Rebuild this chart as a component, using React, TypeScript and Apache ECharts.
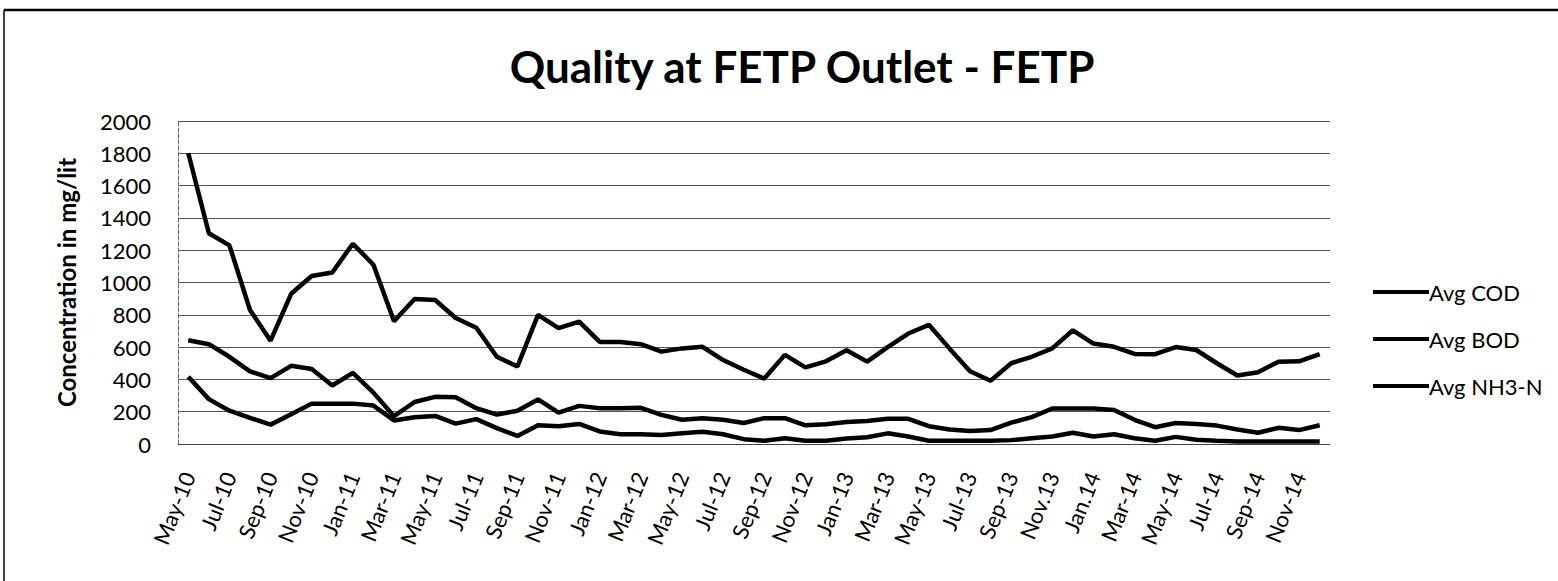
import React, { useEffect, useRef } from "react";
import * as echarts from "echarts";

const months = [
  "May-10", "Jun-10", "Jul-10", "Aug-10", "Sep-10", "Oct-10", "Nov-10", "Dec-10",
  "Jan-11", "Feb-11", "Mar-11", "Apr-11", "May-11", "Jun-11", "Jul-11", "Aug-11", "Sep-11", "Oct-11", "Nov-11", "Dec-11",
  "Jan-12", "Feb-12", "Mar-12", "Apr-12", "May-12", "Jun-12", "Jul-12", "Aug-12", "Sep-12", "Oct-12", "Nov-12", "Dec-12",
  "Jan-13", "Feb-13", "Mar-13", "Apr-13", "May-13", "Jun-13", "Jul-13", "Aug-13", "Sep-13", "Oct-13", "Nov.13", "Dec-13",
  "Jan.14", "Feb-14", "Mar-14", "Apr-14", "May-14", "Jun-14", "Jul-14", "Aug-14", "Sep-14", "Oct-14", "Nov-14", "Dec-14",
];

const avgCOD = [
  1800, 1305, 1230, 830, 640, 930, 1040, 1062,
  1240, 1110, 760, 898, 892, 780, 720, 540, 480, 800, 718, 758,
  632, 632, 618, 572, 592, 602, 520, 460, 405, 552, 474, 512,
  580, 510, 600, 684, 738, 592, 450, 392, 500, 540, 592, 704,
  622, 602, 558, 556, 600, 582, 500, 424, 444, 510, 512, 556,
];

const avgBOD = [
  642, 618, 540, 450, 408, 484, 464, 362,
  440, 318, 172, 260, 292, 290, 222, 182, 206, 276, 194, 236,
  222, 222, 224, 180, 150, 160, 150, 130, 160, 160, 116, 122,
  136, 142, 156, 156, 110, 90, 80, 86, 132, 166, 220, 220,
  220, 210, 150, 104, 130, 124, 114, 90, 70, 100, 86, 116,
];

const avgNH3N = [
  416, 278, 206, 162, 120, 184, 250, 250,
  250, 238, 146, 166, 174, 126, 154, 98, 50, 116, 110, 124,
  78, 60, 60, 56, 66, 76, 60, 30, 20, 36, 20, 20,
  34, 42, 66, 46, 20, 20, 20, 20, 24, 36, 46, 70,
  46, 60, 36, 20, 44, 26, 20, 16, 15, 15, 15, 15,
];

const yTicks = { min: 0, max: 2000, interval: 200 };

const FONT = "Lato, 'Open Sans', sans-serif";

export default function App() {
  const ref = useRef<HTMLDivElement>(null);

  useEffect(() => {
    if (!ref.current) return;
    const chart = echarts.init(ref.current, undefined, { renderer: "svg" });
    const lineSeries = (name: string, data: number[]) => ({
      name,
      type: "line",
      data,
      symbol: "none",
      lineStyle: { color: "#000", width: 4.5 },
      itemStyle: { color: "#000" },
      emphasis: { disabled: true },
    });
    chart.setOption({
      animation: false,
      backgroundColor: "#fff",
      title: {
        text: "Quality at FETP Outlet - FETP",
        left: 797,
        textAlign: "center",
        top: 39,
        textStyle: { fontFamily: FONT, fontSize: 44, fontWeight: "bold", color: "#000" },
      },
      graphic: [
        {
          type: "line",
          shape: { x1: 4, y1: 10, x2: 1558, y2: 10 },
          style: { stroke: "#000", lineWidth: 2.5 },
          silent: true,
        },
        {
          type: "line",
          shape: { x1: 4, y1: 10, x2: 4, y2: 581 },
          style: { stroke: "#000", lineWidth: 1.5 },
          silent: true,
        },
      ],
      legend: {
        orient: "vertical",
        left: 1368,
        top: 276,
        itemWidth: 56,
        itemHeight: 4,
        itemGap: 25,
        icon: "rect",
        textStyle: { fontFamily: FONT, fontSize: 22, color: "#000", padding: [0, 0, 0, -5] },
        data: ["Avg COD", "Avg BOD", "Avg NH3-N"],
      },
      grid: { left: 178, right: 228, top: 121, bottom: 137, containLabel: false },
      xAxis: {
        type: "category",
        data: months,
        boundaryGap: true,
        axisLine: { show: true, lineStyle: { color: "#444", width: 1 } },
        axisTick: { show: false },
        axisLabel: {
          interval: 1,
          rotate: 68,
          margin: 29,
          fontFamily: FONT,
          fontSize: 22,
          color: "#000",
        },
      },
      yAxis: {
        type: "value",
        min: yTicks.min,
        max: yTicks.max,
        interval: yTicks.interval,
        name: "Concentration in mg/lit",
        nameLocation: "middle",
        nameGap: 100,
        nameTextStyle: { fontFamily: FONT, fontSize: 24, fontWeight: "bold", color: "#000" },
        axisLine: { show: true, lineStyle: { color: "#666", width: 1, type: "dashed" } },
        axisTick: { show: false },
        axisLabel: {
          fontFamily: FONT,
          fontSize: 22,
          color: "#000",
          margin: 27,
          formatter: (v: number) => String(v),
        },
        splitLine: { show: true, lineStyle: { color: "#555", width: 1 } },
      },
      series: [
        lineSeries("Avg COD", avgCOD),
        lineSeries("Avg BOD", avgBOD),
        lineSeries("Avg NH3-N", avgNH3N),
      ],
    });
    return () => chart.dispose();
  }, []);

  return (
    <div
      ref={ref}
      style={{ position: "fixed", left: 0, top: 0, width: 1558, height: 581, background: "#fff" }}
    />
  );
}
